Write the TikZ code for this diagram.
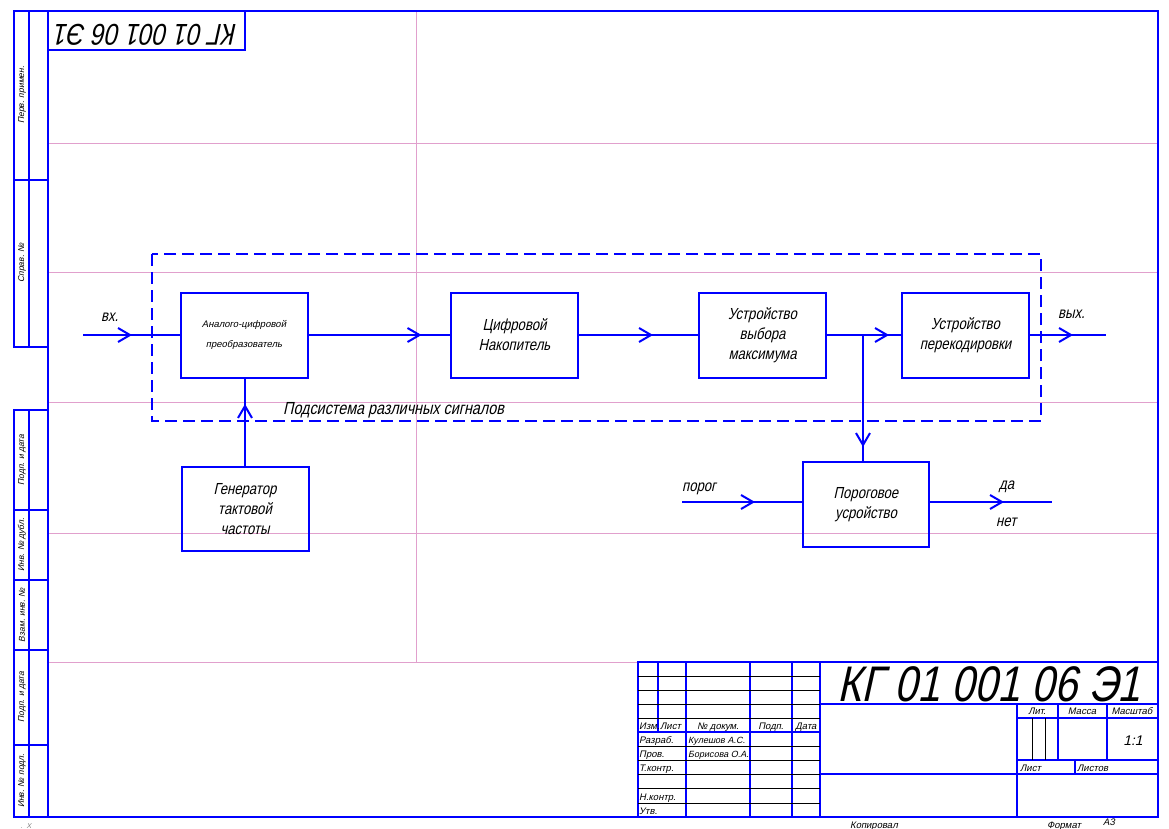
\documentclass[tikz,border=0pt]{standalone}
\usepackage{fontspec}
\usetikzlibrary{arrows.meta,decorations.markings}
\newfontfamily\gost[FakeSlant=0.22,FakeStretch=0.82]{Liberation Sans}
\newfontfamily\gostw[FakeSlant=0.22]{Liberation Sans}
\definecolor{frameblue}{RGB}{0,0,255}
\definecolor{gridpink}{RGB}{225,160,205}
\tikzset{
 frm/.style={draw=frameblue,line width=2pt},
 thinln/.style={draw=black,line width=0.8pt},
 gridln/.style={draw=gridpink,line width=0.8pt},
 blk/.style={draw=frameblue,line width=2pt,minimum width=127pt,minimum height=85pt,inner sep=0pt,align=center,font=\gost\fontsize{16}{20}\selectfont},
 conn/.style={draw=frameblue,line width=2pt},
 tipat/.style={postaction={decorate},decoration={markings,mark=at position #1 with {\arrow[frameblue,line width=2pt]{Straight Barb[length=12pt,width=14pt]}}}},
 lbl/.style={font=\gost\fontsize{16}{20}\selectfont,inner sep=0pt},
 small/.style={font=\gostw\fontsize{9.5}{11}\selectfont,inner sep=0pt},
 stamp/.style={font=\gostw\fontsize{8.5}{10}\selectfont,inner sep=0pt,rotate=90},
}
\begin{document}
\begin{tikzpicture}[x=1pt,y=-1pt]
\useasboundingbox (0,0) rectangle (1169,829);
% pink grid
\draw[gridln] (416,11) -- (416,662);
\foreach \yy in {143,272,402,533} {\draw[gridln] (48,\yy) -- (1158,\yy);}
\draw[gridln] (48,662) -- (638,662);
% main frame
\draw[frm] (48,11) rectangle (1158,817);
% left stamps
\draw[frm] (14,11) rectangle (48,347);
\draw[frm] (29,11) -- (29,347);
\draw[frm] (14,180) -- (48,180);
\draw[frm] (14,410) rectangle (48,817);
\draw[frm] (29,410) -- (29,817);
\foreach \yy in {510,580,650,745} {\draw[frm] (14,\yy) -- (48,\yy);}
\node[stamp] (s1) at (22,95) {Перв. примен.};
\node[stamp] (s2) at (22,263) {Справ. №};
\node[stamp] (s3) at (22,460) {Подп. и дата};
\node[stamp] (s4) at (22,545) {Инв. № дубл.};
\node[stamp] (s5) at (22,615) {Взам. инв. №};
\node[stamp] (s6) at (22,697) {Подп. и дата};
\node[stamp] (s7) at (22,781) {Инв. № подл.};
% top-left reversed box
\draw[frm] (48,11) rectangle (245,50);
\node[font=\gost\fontsize{30}{32}\selectfont,inner sep=0pt,rotate=180,anchor=base] (topcode) at (146.5,25) {КГ 01 001 06 Э1};

% title block
\draw[frm] (638,662) rectangle (1158,817);
\foreach \xx in {686,750,792,820} {\draw[frm] (\xx,662) -- (\xx,817);}
\draw[frm] (658,662) -- (658,732);
\foreach \yy in {676,690,704,718,746,760,774,788,803} {\draw[thinln] (638,\yy) -- (820,\yy);}
\draw[frm] (638,732) -- (820,732);
\draw[frm] (820,704) -- (1158,704);
\draw[frm] (820,774) -- (1158,774);
\draw[frm] (1017,704) -- (1017,817);
\draw[frm] (1017,718) -- (1158,718);
\draw[frm] (1017,760) -- (1158,760);
\draw[frm] (1058,704) -- (1058,760);
\draw[frm] (1107,704) -- (1107,760);
\draw[frm] (1075,760) -- (1075,774);
\draw[thinln] (1032,718) -- (1032,760);
\draw[thinln] (1045,718) -- (1045,760);
\node[font=\gost\fontsize{50}{52}\selectfont,inner sep=0pt,anchor=base,text depth=0pt] (code) at (989,701) {КГ 01 001 06 Э1};
\node[small,anchor=base west] (t1) at (639,729) {Изм.};
\node[small,anchor=base west] (t2) at (660,729) {Лист};
\node[small,anchor=base] (t3) at (718,729) {№ докум.};
\node[small,anchor=base] (t4) at (771,729) {Подп.};
\node[small,anchor=base] (t5) at (806,729) {Дата};
\node[small,anchor=base west] (t6) at (639,743) {Разраб.};
\node[small,anchor=base west,font=\gostw\fontsize{9}{11}\selectfont] (t7) at (688,743) {Кулешов А.С.};
\node[small,anchor=base west] (t8) at (639,757) {Пров.};
\node[small,anchor=base west,font=\gostw\fontsize{9}{11}\selectfont] (t9) at (688,757) {Борисова О.А.};
\node[small,anchor=base west] (t10) at (639,771) {Т.контр.};
\node[small,anchor=base west] (t11) at (639,800) {Н.контр.};
\node[small,anchor=base west] (t12) at (639,814) {Утв.};
\node[small,anchor=base] (t13) at (1037,714.5) {Лит.};
\node[small,anchor=base] (t14) at (1082,714.5) {Масса};
\node[small,anchor=base] (t15) at (1132,714.5) {Масштаб};
\node[font=\gostw\fontsize{14}{16}\selectfont,inner sep=0pt,anchor=base] (t16) at (1133,745) {1:1};
\node[small,anchor=base west] (t17) at (1020,771) {Лист};
\node[small,anchor=base west] (t18) at (1077,771) {Листов};
\node[small,anchor=base west] (t19) at (850,828) {Копировал};
\node[small,anchor=base west] (t20) at (1047,828) {Формат};
\node[small,anchor=base west] (t21) at (1103,825) {А3};
\node[font=\gostw\fontsize{7}{8}\selectfont,text=gray,inner sep=0pt] (xx) at (26,826) {.\ \ X};

% subsystem dashed frame
\draw[draw=frameblue,line width=2pt,dash pattern=on 12pt off 6pt] (152,254) rectangle (1041,421);
\node[lbl,anchor=base west,font=\gost\fontsize{17.5}{20}\selectfont] (sub) at (283,414) {Подсистема различных сигналов};

% blocks
\node[blk,font=\gostw\fontsize{9.5}{20}\selectfont] (adc) at (244,335) {Аналого-цифровой\\преобразователь};
\node[blk] (nak) at (514.5,335) {Цифровой\\Накопитель};
\node[blk] (vyb) at (762.5,335) {Устройство\\выбора\\максимума};
\node[blk] (per) at (965.5,335) {Устройство\\перекодировки};
\node[blk,minimum height=84pt] (gen) at (245,509) {Генератор\\тактовой\\частоты};
\node[blk,minimum width=126pt] (por) at (866,504.5) {Пороговое\\усройство};

% connectors
\coordinate (in) at (83,335);
\coordinate (out) at (1106,335);
\coordinate (br) at (863,335);
\coordinate (pin) at (682,502);
\coordinate (pout) at (1052,502);
\draw[conn,tipat=49pt] (in) -- (adc.west);
\draw[conn,tipat=113pt] (adc.east) -- (nak.west);
\draw[conn,tipat=74pt] (nak.east) -- (vyb.west);
\draw[conn,tipat=62pt] (vyb.east) -- (per.west);
\draw[conn,tipat=43pt] (per.east) -- (out);
\draw[conn,tipat=112pt] (br) -- (br |- por.north);
\draw[conn,tipat=62pt] (gen.north) -- (gen.north |- adc.south);
\draw[conn,tipat=73pt] (pin) -- (pin -| por.west);
\draw[conn,tipat=74pt] (pout -| por.east) -- (pout);

% labels
\node[lbl,anchor=base west] (lin) at (101,321) {вх.};
\node[lbl,anchor=base west] (lout) at (1058,318) {вых.};
\node[lbl,anchor=base west] (lpor) at (682,491) {порог};
\node[lbl,anchor=base west] (lda) at (999,489) {да};
\node[lbl,anchor=base west] (lnet) at (996,526) {нет};
\end{tikzpicture}
\end{document}
